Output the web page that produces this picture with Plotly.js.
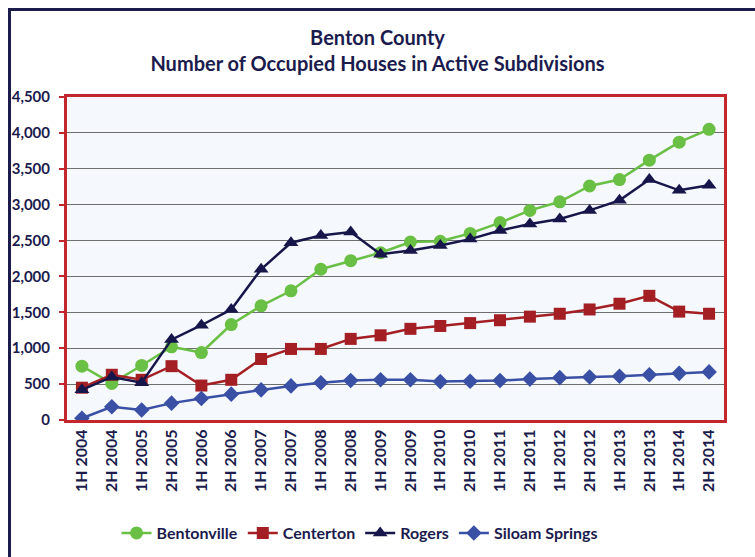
<!DOCTYPE html>
<html>
<head>
<meta charset="utf-8">
<script src="https://cdn.plot.ly/plotly-3.0.1.min.js"></script>
<style>
html,body{margin:0;padding:0;background:#fff;}
#frame{position:absolute;left:8px;top:8px;width:780px;height:600px;border:3px solid #1b1b4d;box-sizing:border-box;}
#chart{position:absolute;left:0;top:0;width:755px;height:557px;}
</style>
</head>
<body>
<div id="frame"></div>
<div id="chart"></div>
<script>
const periods = ["1H 2004","2H 2004","1H 2005","2H 2005","1H 2006","2H 2006","1H 2007","2H 2007","1H 2008","2H 2008","1H 2009","2H 2009","1H 2010","2H 2010","1H 2011","2H 2011","1H 2012","2H 2012","1H 2013","2H 2013","1H 2014","2H 2014"];
const bentonville = [750,510,760,1020,940,1330,1590,1800,2100,2220,2330,2480,2490,2600,2750,2920,3040,3260,3350,3620,3870,4050];
const centerton = [450,630,560,750,480,560,850,990,990,1130,1180,1270,1310,1350,1390,1440,1480,1540,1620,1730,1510,1480];
const rogers = [420,600,520,1120,1320,1540,2100,2470,2570,2620,2310,2360,2430,2520,2640,2730,2800,2920,3060,3350,3200,3270];
const siloam = [25,185,140,235,300,360,420,475,520,550,560,560,535,540,550,570,590,600,610,630,650,670];

const font = "Lato, 'Open Sans', sans-serif";
const navy = "#1b1b4d";

function tr(name, y, color, symbol, size){
  return {x: periods, y: y, name: name, type: "scatter", mode: "lines+markers",
    line: {color: color, width: 2.5},
    marker: {color: color, symbol: symbol, size: size}};
}
const data = [
  tr("Bentonville", bentonville, "#6abf45", "circle", 13),
  tr("Centerton", centerton, "#a31f24", "square", 12),
  tr("Rogers", rogers, "#16164a", "triangle-up", 13),
  tr("Siloam Springs", siloam, "#3a50a5", "diamond", 12)
];
const layout = {
  width: 755, height: 557,
  margin: {l: 67, r: 31, t: 97, b: 137},
  paper_bgcolor: "rgba(0,0,0,0)",
  plot_bgcolor: "#f5f8fd",
  font: {family: font, color: navy},
  title: {text: "<b>Benton County</b><br><b>Number of Occupied Houses in Active Subdivisions</b>",
    font: {family: font, size: 20, color: navy}, x: 0.5, xanchor: "center", y: 0.919, yanchor: "middle"},
  xaxis: {type: "category", tickangle: -90, showgrid: false, showline: true, mirror: true, automargin: false,
    linecolor: "#c1272d", linewidth: 3, ticks: "", range: [-0.5, 21.5],
    tickfont: {family: font, size: 16, color: navy, weight: "bold"}},
  yaxis: {range: [0, 4500], dtick: 500, tickformat: ",", showgrid: true, gridcolor: "#6e6e6e", gridwidth: 1,
    showline: true, mirror: true, linecolor: "#c1272d", linewidth: 3, zeroline: false, automargin: false,
    ticks: "outside", ticklen: 5, tickcolor: "#c1272d", tickwidth: 2, ticklabelstandoff: 6,
    tickfont: {family: font, size: 15, color: navy, weight: "bold"}},
  legend: {orientation: "h", x: 0.446, xanchor: "center", xref: "paper", yref: "container", y: 0.043, yanchor: "middle",
    font: {family: font, size: 16, color: navy, weight: "bold"}, itemwidth: 30},
  showlegend: true
};
Plotly.newPlot("chart", data, layout, {displayModeBar: false, staticPlot: true});
</script>
</body>
</html>
